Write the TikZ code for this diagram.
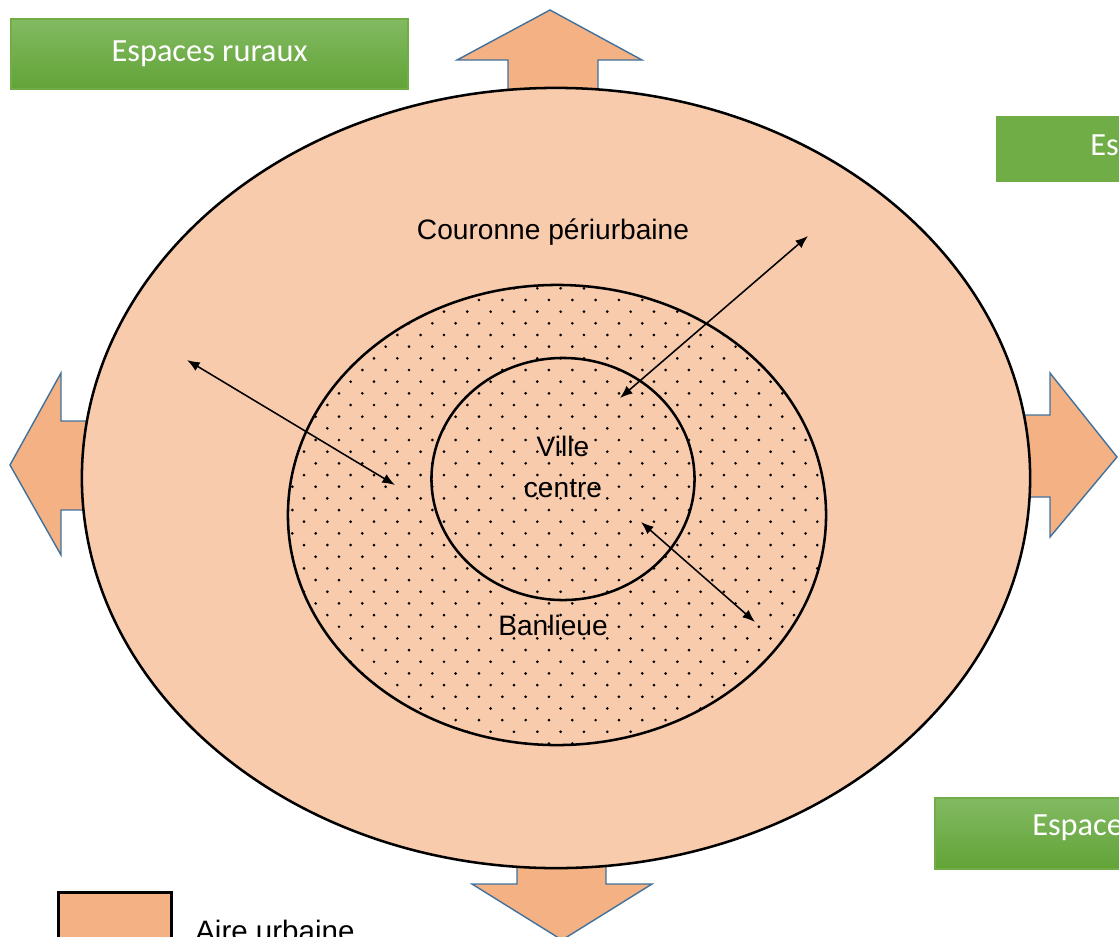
\documentclass[tikz,border=0pt]{standalone}
\usepackage{fontspec}
\setmainfont{Liberation Sans}
\newfontfamily\boxfont{Carlito}
\usepackage{tikz}
\usetikzlibrary{positioning, arrows.meta, shapes.geometric}

\definecolor{peach}{HTML}{F8CBAD}
\definecolor{blockorange}{HTML}{F4B183}
\definecolor{blockblue}{HTML}{41719C}
\definecolor{ruralgreen}{HTML}{70AD47}
\definecolor{ruraltop}{HTML}{82BA62}
\definecolor{ruralbottom}{HTML}{62A337}

\begin{document}
\begin{tikzpicture}[x=0.025cm, y=-0.025cm]
	% Define styles
	\tikzset{
		zone/.style={ellipse, draw, line width=1.8pt, inner sep=0pt},
		rural/.style={rectangle, draw=ruralgreen, line width=1.5pt, top color=ruraltop, bottom color=ruralbottom, anchor=north west, inner sep=0pt},
		ruraltext/.style={text=white, font=\boxfont\fontsize{23}{26}\selectfont},
		blockarrow/.style={draw=blockblue, line width=1pt, fill=blockorange, line join=miter},
		label/.style={font=\fontsize{20}{29}\selectfont, align=center},
		line/.style={draw, line width=1.1pt, {Latex[length=9pt,width=7pt]}-{Latex[length=9pt,width=7pt]}}
	}
	
	\clip (0,0) rectangle (1119,936);
	
	% Block arrows
	\path[blockarrow] (508,100) -- (508,60) -- (457,60) -- (550,10) -- (642,60) -- (598,60) -- (598,100) -- cycle;
	\path[blockarrow] (100,421) -- (61,421) -- (61,373) -- (10,465) -- (61,555) -- (61,510) -- (100,510) -- cycle;
	\path[blockarrow] (1012,415) -- (1050,415) -- (1050,373) -- (1117,457) -- (1050,537) -- (1050,497) -- (1012,497) -- cycle;
	\path[blockarrow] (517,855) -- (517,884) -- (472,884) -- (562,940) -- (652,884) -- (606,884) -- (606,855) -- cycle;
	
	% Nodes
	\node[zone, fill=peach, minimum width=23.7cm, minimum height=19.5cm] (aire) at (556,478) {};
	
	\begin{scope}
		\clip (557,515) ellipse [x radius=6.725cm, y radius=5.75cm];
		\foreach \j in {0,...,40} {
			\foreach \i in {0,...,24} {
				\fill ({269+\i*23.33+mod(\j+1,2)*11.67},{288.3+\j*11.67}) circle (1.05pt);
			}
		}
	\end{scope}
	
	\node[zone, minimum width=13.45cm, minimum height=11.5cm] (banlieue) at (557,515) {};
	\node[zone, minimum width=6.575cm, minimum height=6.05cm] (ville) at (563,479) {};
	
	\node[label] (couronnetext) at (553,232) {Couronne périurbaine};
	\node[label] (villetext) at (563,467) {Ville\\centre};
	\node[label] (banlieuetext) at (553,625) {Banlieue};
	
	\node[rural, minimum width=9.925cm, minimum height=1.75cm] (rural1) at (10,18) {};
	\node[ruraltext] at (rural1.center) {Espaces ruraux};
	\node[rural, draw=none, top color=ruralgreen, bottom color=ruralgreen, minimum width=4cm, minimum height=1.625cm] (rural2) at (995,115) {};
	\node[ruraltext, anchor=west, inner sep=0pt] at (1090,145) {Es};
	\node[rural, minimum width=6cm, minimum height=1.775cm] (rural3) at (934,797) {};
	\node[ruraltext, anchor=west, inner sep=0pt] at (1032,828) {Espace};
	
	% Legend
	\node[rectangle, draw, line width=2pt, fill=blockorange, anchor=north west, minimum width=2.825cm, minimum height=2cm] (legendbox) at (57,891) {};
	\node[font=\fontsize{21}{24}\selectfont, anchor=base west, inner sep=0pt] (legendtext) at (195,941) {Aire urbaine};
	
	% Arrows
	\coordinate (a1) at (187,360);
	\coordinate (a2) at (395,485);
	\coordinate (b1) at (808,236);
	\coordinate (b2) at (620,398);
	\coordinate (c1) at (641,522);
	\coordinate (c2) at (755,622);
	\path [line] (a1) -- (a2);
	\path [line] (b1) -- (b2);
	\path [line] (c1) -- (c2);
\end{tikzpicture}
\end{document}
